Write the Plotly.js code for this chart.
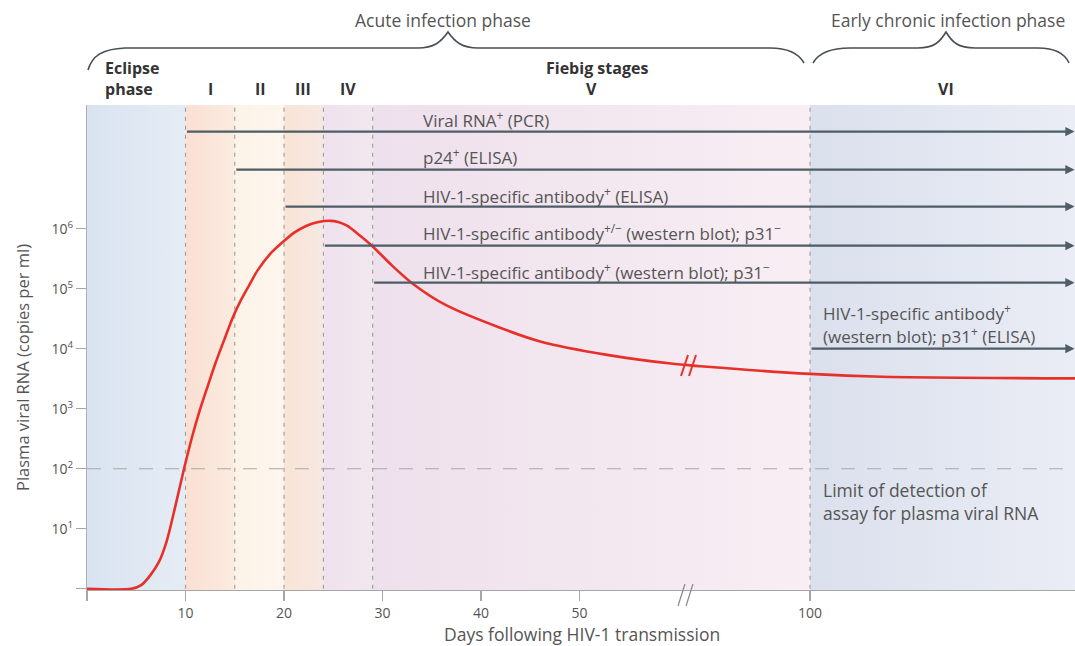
<!DOCTYPE html>
<html><head><meta charset="utf-8">
<script src="https://cdn.plot.ly/plotly-3.0.1.min.js"></script>
<style>html,body{margin:0;padding:0;background:#fff}#chart{width:1075px;height:646px}</style>
</head><body><div id="chart"></div>
<script>
// ---------- data ----------
const curveDays = [0, 4.5, 5.5, 6.4, 7.3, 8.1, 9, 9.85, 10.7, 11.5, 12.3, 13, 14, 14.8, 15.6, 16.5, 17.3, 18.6, 19.9, 21, 22.3, 23.5, 24.7, 25.5, 26.4, 27.6, 28.9, 31, 33.1, 36.5, 41.6, 46, 52.8, 59.5, 65, 100, 123, 185];
const viralLoad = [1, 1, 1.15, 1.66, 2.8, 6.3, 25, 100, 355, 1000, 2500, 5500, 15100, 33100, 63100, 117000, 200000, 380000, 603000, 851000, 1120000, 1290000, 1350000, 1290000, 1120000, 794000, 525000, 240000, 120000, 52500, 23400, 13200, 7900, 5600, 5100, 3800, 3400, 3200];

const stageBounds = [0, 10, 15, 20, 24, 29, 100, 185];
const stageNames = ['Eclipse<br>phase', 'I', 'II', 'III', 'IV', 'V', 'VI'];
const detectionLimit = 100;

const assayStarts = [10, 15, 20, 24, 29, 100];
const assayLabels = [
  ['Viral RNA<sup>+</sup> (PCR)'],
  ['p24<sup>+</sup> (ELISA)'],
  ['HIV-1-specific antibody<sup>+</sup> (ELISA)'],
  ['HIV-1-specific antibody<sup>+/\u2212</sup> (western blot); p31<sup>\u2212</sup>'],
  ['HIV-1-specific antibody<sup>+</sup> (western blot); p31<sup>\u2212</sup>'],
  ['HIV-1-specific antibody<sup>+</sup>', '(western blot); p31<sup>+</sup> (ELISA)']
];
const xTickDays = [0, 10, 20, 30, 40, 50, 100];
const xTickText = ['', '10', '20', '30', '40', '50', '100'];
const yTickVals = [1, 10, 100, 1000, 10000, 100000, 1000000];
const yTickText = ['', '10<sup>1</sup>', '10<sup>2</sup>', '10<sup>3</sup>', '10<sup>4</sup>', '10<sup>5</sup>', '10<sup>6</sup>'];

// ---------- broken x scale ----------
const BREAK = 61, COMP = 0.318, XMAX = 100.3;
const pos = d => d <= BREAK ? d : BREAK + (d - BREAK) * COMP;

// layout helpers (pixel -> paper)
const L = 87, T = 105, W = 1075, H = 646, B = 590, PW = W - L, PH = B - T;
const px = x => (x - L) / PW;
const py = y => (B - y) / PH;
const pxX = x => (x - L) / PW * XMAX;          // pixel -> x-axis units
const pathOf = pts => pts.map(c => c[0] + ' ' + px(c[1]).toFixed(5) + ',' + py(c[2]).toFixed(5)).join(' ');

const FONT = 'Open Sans, Lato, sans-serif';
const TXT = '#555';

const bandColors = [
  ['#d9e3f0', '#e5ecf5'],
  ['#f9e0d2', '#fbebe0'],
  ['#fdf3e7', '#fdf6ee'],
  ['#f9e4d6', '#f7e8e3'],
  ['#efe2ed', '#f2e6ef'],
  ['#eee0ec', '#f8eef3'],
  ['#dbe0ed', '#eaedf5']
];

const traces = [];
for (let i = 0; i < stageBounds.length - 1; i++) {
  const a = pos(stageBounds[i]), b = pos(stageBounds[i + 1]);
  traces.push({
    x: [a, b, b, a, a], y: [0.5, 0.5, 1e9, 1e9, 0.5],
    mode: 'none', fill: 'toself', hoverinfo: 'skip', showlegend: false,
    fillgradient: {type: 'horizontal', colorscale: [[0, bandColors[i][0]], [1, bandColors[i][1]]]}
  });
}
// stage boundary dashed lines
for (let i = 1; i < stageBounds.length - 1; i++) {
  const a = pos(stageBounds[i]);
  traces.push({x: [a, a], y: [0.5, 1e9], mode: 'lines', hoverinfo: 'skip', showlegend: false,
    line: {color: '#9c9c9c', width: 1.1, dash: '4px,5px'}});
}
// detection limit
traces.push({x: [0, XMAX], y: [detectionLimit, detectionLimit], mode: 'lines', hoverinfo: 'skip', showlegend: false,
  line: {color: '#a8a8a8', width: 1.2, dash: '14px,12px'}});
// viral load curve
traces.push({x: curveDays.map(pos), y: viralLoad, mode: 'lines', showlegend: false,
  line: {color: '#e8302a', width: 2.6, shape: 'spline', smoothing: 0.8}});

// ---------- annotations ----------
const arrowY = [7.617, 6.983, 6.367, 5.717, 5.1, 4.0];
const labelY = [[119], [157], [195], [233], [271], [312, 335]];
const labelX = [421, 421, 421, 421, 421, 821];
const ann = [];
assayStarts.forEach((s, i) => {
  ann.push({x: XMAX - 0.05, y: arrowY[i], ax: pos(s), ay: arrowY[i], xref: 'x', yref: 'y', axref: 'x', ayref: 'y',
    text: '', showarrow: true, arrowhead: 2, arrowsize: 0.8, arrowwidth: 2.3, arrowcolor: '#4e5d66', standoff: 0, startstandoff: 0});
  assayLabels[i].forEach((t, j) => {
    ann.push({xref: 'paper', yref: 'paper', x: px(labelX[i]), y: py(labelY[i][j]), xanchor: 'left', yanchor: 'middle', align: 'left',
      text: t, showarrow: false, font: {family: FONT, size: 17, color: TXT}});
  });
});
ann.push({xref: 'paper', yref: 'paper', x: px(821), y: py(490), xanchor: 'left', yanchor: 'middle', align: 'left',
  text: 'Limit of detection of', showarrow: false, font: {family: FONT, size: 17.5, color: TXT}});
ann.push({xref: 'paper', yref: 'paper', x: px(821), y: py(513), xanchor: 'left', yanchor: 'middle', align: 'left',
  text: 'assay for plasma viral RNA', showarrow: false, font: {family: FONT, size: 17.5, color: TXT}});

const stageLabelX = [103, 210, 260, 303, 348, 591, 946];
stageNames.forEach((n, i) => {
  ann.push({xref: 'paper', yref: 'paper', x: px(stageLabelX[i]), y: py(i === 0 ? 79 : 89),
    xanchor: i === 0 ? 'left' : 'center', yanchor: 'middle', align: 'left',
    text: '<b>' + n + '</b>', showarrow: false, font: {family: FONT, size: 16, color: '#333'}});
});
ann.push({xref: 'paper', yref: 'paper', x: px(597), y: py(68), xanchor: 'center', yanchor: 'middle',
  text: '<b>Fiebig stages</b>', showarrow: false, font: {family: FONT, size: 16, color: '#333'}});
ann.push({xref: 'paper', yref: 'paper', x: px(443), y: py(20), xanchor: 'center', yanchor: 'middle',
  text: 'Acute infection phase', showarrow: false, font: {family: FONT, size: 17.5, color: TXT}});
ann.push({xref: 'paper', yref: 'paper', x: px(948), y: py(20), xanchor: 'center', yanchor: 'middle',
  text: 'Early chronic infection phase', showarrow: false, font: {family: FONT, size: 17.5, color: TXT}});
// axis titles
ann.push({xref: 'paper', yref: 'paper', x: px(582), y: py(634), xanchor: 'center', yanchor: 'middle',
  text: 'Days following HIV-1 transmission', showarrow: false, font: {family: FONT, size: 17.5, color: TXT}});
ann.push({xref: 'paper', yref: 'paper', x: px(22), y: py(368), xanchor: 'center', yanchor: 'middle', textangle: -90,
  text: 'Plasma viral RNA (copies per ml)', showarrow: false, font: {family: FONT, size: 16.5, color: TXT}});

// ---------- shapes ----------
const braceColor = '#4a4f55';
const shapes = [
  {type: 'path', xref: 'paper', yref: 'paper', line: {color: braceColor, width: 1.6},
   path: pathOf([['M', 88, 70], ['C', 92, 56], ['', 102, 49], ['', 125, 48], ['L', 418, 48], ['C', 434, 48], ['', 441, 42], ['', 448, 32],
                 ['C', 455, 42], ['', 462, 48], ['', 478, 48], ['L', 770, 48], ['C', 788, 48], ['', 799, 54], ['', 804, 63]])},
  {type: 'path', xref: 'paper', yref: 'paper', line: {color: braceColor, width: 1.6},
   path: pathOf([['M', 813, 63], ['C', 818, 54], ['', 830, 48], ['', 850, 48], ['L', 918, 48], ['C', 934, 48], ['', 940, 42], ['', 946, 32],
                 ['C', 952, 42], ['', 958, 48], ['', 975, 48], ['L', 1038, 48], ['C', 1056, 48], ['', 1065, 54], ['', 1069, 63]])},
  // break marks on curve
  {type: 'line', xref: 'x', yref: 'paper', x0: pxX(681), y0: py(376), x1: pxX(688), y1: py(355), line: {color: '#e8302a', width: 2}},
  {type: 'line', xref: 'x', yref: 'paper', x0: pxX(689), y0: py(376), x1: pxX(696), y1: py(355), line: {color: '#e8302a', width: 2}},
  // break marks on axis
  {type: 'line', xref: 'x', yref: 'paper', x0: pxX(678), y0: py(606), x1: pxX(685), y1: py(584), line: {color: '#888', width: 1.2}},
  {type: 'line', xref: 'x', yref: 'paper', x0: pxX(686), y0: py(606), x1: pxX(693), y1: py(584), line: {color: '#888', width: 1.2}}
];

const layout = {
  width: W, height: H,
  margin: {l: L, r: W - 1075, t: T, b: H - B},
  paper_bgcolor: '#fff', plot_bgcolor: '#fff',
  showlegend: false,
  font: {family: FONT, color: TXT},
  xaxis: {
    range: [0, XMAX], showgrid: false, zeroline: false, showline: true, linecolor: '#a6a6a6', linewidth: 1.2,
    ticks: 'outside', ticklen: 10, tickcolor: '#a6a6a6', tickwidth: 1.2,
    tickvals: xTickDays.map(pos), ticktext: xTickText, tickfont: {family: FONT, size: 14, color: TXT}
  },
  yaxis: {
    type: 'log', range: [-0.02, 8.06], showgrid: false, zeroline: false, showline: true, linecolor: '#a9b0ba', linewidth: 1.2,
    ticks: 'outside', ticklen: 10, tickcolor: '#a6a6a6', tickwidth: 1.2,
    tickvals: yTickVals, ticktext: yTickText, tickfont: {family: FONT, size: 14, color: TXT}
  },
  annotations: ann,
  shapes: shapes
};
Plotly.newPlot('chart', traces, layout, {staticPlot: true});
</script></body></html>
